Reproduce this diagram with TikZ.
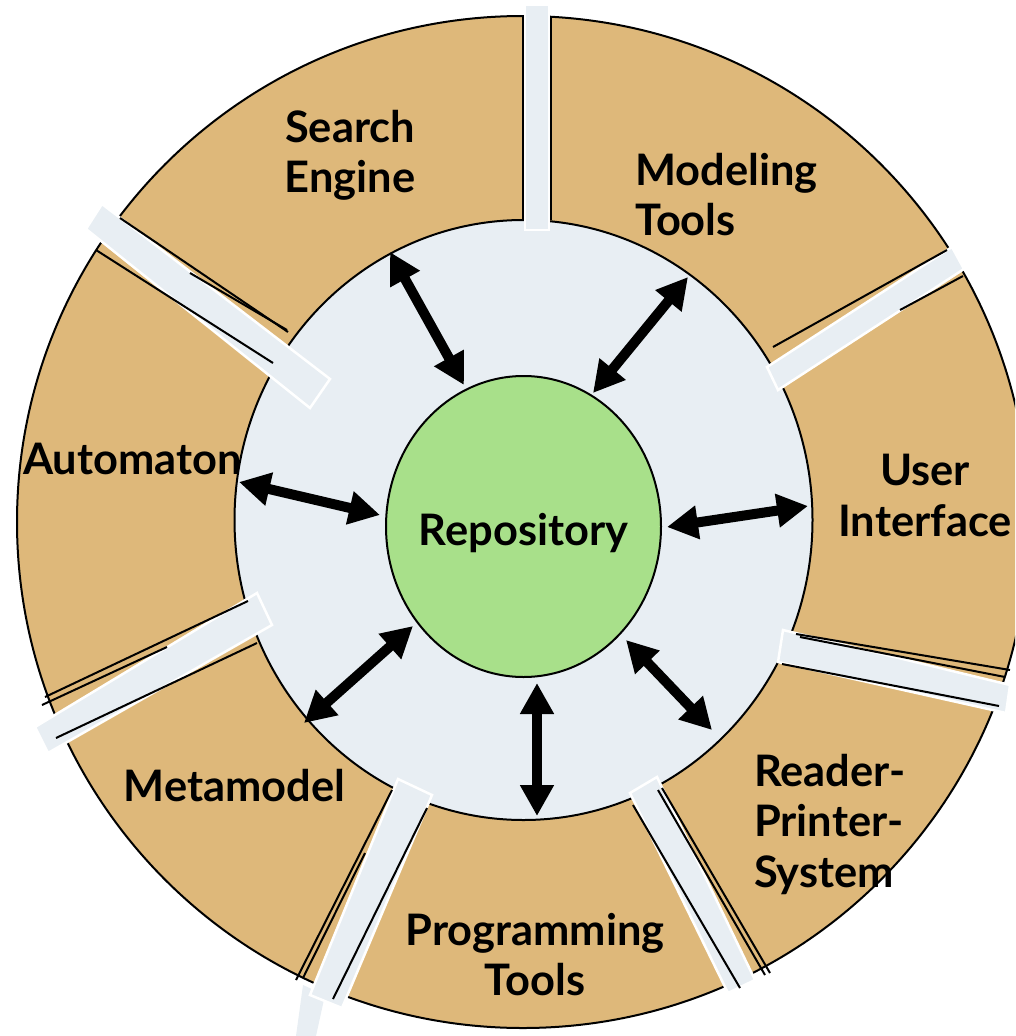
\documentclass[tikz,border=0pt]{standalone}
\usepackage{fontspec}
\setmainfont{Lato}
\usetikzlibrary{arrows.meta,shapes.geometric}
\definecolor{segtan}{HTML}{DEB87A}
\definecolor{pale}{HTML}{E8EEF3}
\definecolor{leaf}{HTML}{A8E08A}
\newcommand\myTop{\rule{0pt}{36pt}}
\begin{document}
\begin{tikzpicture}[x=1pt,y=-1pt,
  bar/.style={fill=pale,draw=white,line width=2.5pt,line join=miter},
  segedge/.style={draw=black,line width=2pt},
  link/.style={{Triangle[length=31pt,width=32pt]}-{Triangle[length=31pt,width=32pt]},line width=10pt},
  lbl/.style={font=\fontsize{43.4}{50.5}\selectfont\bfseries,inner sep=0pt}]
\clip (0,0) rectangle (1015,1036);
% outer ring and inner disc
\node[circle,fill=segtan,draw=black,line width=2pt,minimum size=1012pt,inner sep=0pt] (outer) at (523,522) {};
\node[ellipse,fill=pale,draw=black,line width=2pt,minimum width=578pt,minimum height=600pt,inner sep=0pt] (inner) at (523.5,520) {};
% extension piece of lower-left bar
\fill[pale] (303,985) -- (325,995) -- (316,1036) -- (296,1036) -- cycle;
% separator bars
\path[bar] (525,5) -- (549,5) -- (549,230) -- (525,230) -- cycle;
\path[bar] (102,204) -- (330,379) -- (310,408) -- (86,229) -- cycle;
\path[bar] (952,247) -- (964,269) -- (778,390) -- (767,367) -- cycle;
\path[bar] (783,630) -- (1010,685) -- (1006,713) -- (778,662) -- cycle;
\path[bar] (630,793) -- (657,777) -- (755,980) -- (728,993) -- cycle;
\path[bar] (398,779) -- (432,795) -- (342,1008) -- (310,995) -- cycle;
\path[bar] (257,593) -- (272,625) -- (48,753) -- (35,727) -- cycle;
% segment edges
\draw[segedge] (522.5,17) -- (522.5,220);
\draw[segedge] (551,17) -- (551,220);
\draw[segedge] (120,218) -- (288,332);
\draw[segedge] (190,273) -- (287,330);
\draw[segedge] (96,250) -- (273,363);
\draw[segedge] (773,347) -- (947,250);
\draw[segedge] (900,310) -- (963,276);
\draw[segedge] (796,634) -- (1010,670);
\draw[segedge] (800,637) -- (1005,677);
\draw[segedge] (782,664) -- (999,706);
\draw[segedge] (662,788) -- (770,973);
\draw[segedge] (658,790) -- (765,975);
\draw[segedge] (633,805) -- (740,988);
\draw[segedge] (392,790) -- (296,980);
\draw[segedge] (365,853) -- (303,978);
\draw[segedge] (427,808) -- (333,999);
\draw[segedge] (45,697) -- (248,601);
\draw[segedge] (42,705) -- (167,647);
\draw[segedge] (56,738) -- (257,643);
% repository
\node[ellipse,fill=leaf,draw=black,line width=2pt,minimum width=275pt,minimum height=301pt,inner sep=0pt] (repo) at (523.5,526.5) {};
\node[lbl,anchor=base] (repolbl) at (523.5,545) {Repository};
% arrow end points
\coordinate (seo) at (390,252);  \coordinate (sei) at (464,385);
\coordinate (mto) at (688,277);  \coordinate (mti) at (593,393);
\coordinate (auo) at (239,482);  \coordinate (aui) at (380,515);
\coordinate (uio) at (808,506);  \coordinate (uii) at (667,527);
\coordinate (mmo) at (304,723);  \coordinate (mmi) at (413,626);
\coordinate (pto) at (537,816);  \coordinate (pti) at (537,683);
\coordinate (rpo) at (712,730);  \coordinate (rpi) at (626,640);
\draw[link] (seo) -- (sei);
\draw[link] (mto) -- (mti);
\draw[link] (auo) -- (aui);
\draw[link] (uio) -- (uii);
\draw[link] (mmo) -- (mmi);
\draw[link] (pto) -- (pti);
\draw[link] (rpo) -- (rpi);
% labels
\node[lbl,align=center,anchor=north] (search) at (350,106) {\myTop Search\\Engine};
\node[lbl,align=left,anchor=north west] (model) at (635,149) {\myTop Modeling\\Tools};
\node[lbl,anchor=base] (auto) at (132.5,474) {Automaton};
\node[lbl,align=center,anchor=north] (ui) at (925,449.5) {\myTop User\\Interface};
\node[lbl,anchor=base] (meta) at (234.5,801) {Metamodel};
\node[lbl,align=center,anchor=north] (prog) at (535,909) {\myTop Programming\\Tools};
\node[lbl,align=left,anchor=north west] (rps) at (754,750) {\myTop Reader-\\Printer-\\System};
\end{tikzpicture}
\end{document}
